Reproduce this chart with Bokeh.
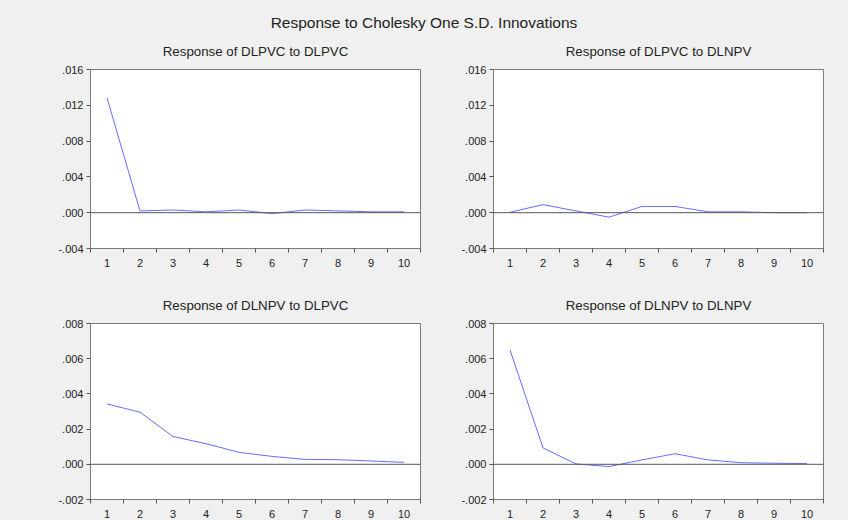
from bokeh.plotting import figure
from bokeh.layouts import column, row
from bokeh.models import Div, FixedTicker, CustomJSTickFormatter, Span, Range1d
from bokeh.embed import file_html
from bokeh.resources import INLINE

periods = [1, 2, 3, 4, 5, 6, 7, 8, 9, 10]
period_labels = ["1", "2", "3", "4", "5", "6", "7", "8", "9", "10"]

resp_dlpvc_dlpvc = [0.01283, 0.0002, 0.0003, 0.0001, 0.0003, -0.0001, 0.0003, 0.0002, 0.0001, 0.0001]
resp_dlpvc_dlnpv = [0.00005, 0.0009, 0.0002, -0.0005, 0.0007, 0.0007, 0.0001, 0.0001, 0.0, 0.0]
resp_dlnpv_dlpvc = [0.00343, 0.00296, 0.00158, 0.00117, 0.00068, 0.00045, 0.00028, 0.00026, 0.00019, 0.00011]
resp_dlnpv_dlnpv = [0.0065, 0.00093, 0.00002, -0.00013, 0.00025, 0.0006, 0.00025, 0.00009, 0.00006, 0.00004]

titles = ["Response of DLPVC to DLPVC", "Response of DLPVC to DLNPV",
          "Response of DLNPV to DLPVC", "Response of DLNPV to DLNPV"]
main_title = "Response to Cholesky One S.D. Innovations"
yticks_top = [-0.004, 0.0, 0.004, 0.008, 0.012, 0.016]
yticks_bottom = [-0.002, 0.0, 0.002, 0.004, 0.006, 0.008]

FONT = "Liberation Sans"
BG = "#f0f0f0"
LINE = "#6b6bff"

fmt_code = """
var s = tick.toFixed(3);
if (s == '-0.000') { s = '0.000'; }
return s.replace('0.', '.');
"""


def panel(title, values, yticks, width, height, bl, br, bt, bb):
    p = figure(width=width, height=height, output_backend="svg", toolbar_location=None,
               x_range=Range1d(0.5, 10.5), y_range=Range1d(yticks[0], yticks[-1]),
               min_border_left=bl, min_border_right=br, min_border_top=bt, min_border_bottom=bb,
               background_fill_color="white", border_fill_color=BG,
               outline_line_color="#7a7a7a", title=title,
               styles={"background-color": BG})
    p.title.text_font = FONT
    p.title.text_font_size = "13.3px"
    p.title.text_font_style = "normal"
    p.title.text_color = "#222222"
    p.title.align = "center"
    p.title.standoff = 21
    p.grid.visible = False

    xa = p.xaxis[0]
    xa.ticker = FixedTicker(ticks=periods, minor_ticks=[x - 0.5 for x in periods] + [10.5])
    xa.major_label_overrides = {i: lab for i, lab in zip(periods, period_labels)}
    xa.major_tick_out = 0
    xa.major_tick_in = 0
    xa.minor_tick_out = 4
    xa.minor_tick_in = 0
    xa.minor_tick_line_color = "#555555"
    xa.major_label_standoff = 6
    xa.axis_line_color = "#7a7a7a"

    ya = p.yaxis[0]
    ya.ticker = FixedTicker(ticks=yticks, minor_ticks=[])
    ya.formatter = CustomJSTickFormatter(code=fmt_code)
    ya.major_tick_out = 4
    ya.major_tick_in = 0
    ya.major_tick_line_color = "#555555"
    ya.major_label_standoff = 3
    ya.axis_line_color = "#7a7a7a"

    for ax in (xa, ya):
        ax.major_label_text_font = FONT
        ax.major_label_text_font_size = "11px"
        ax.major_label_text_color = "#222222"

    p.add_layout(Span(location=0, dimension="width", line_color="#555555", line_width=1))
    p.line(periods, values, line_color=LINE, line_width=1)
    return p


header = Div(text='<div style="padding-top:14px;line-height:17px;">%s</div>' % main_title,
             width=848, height=31, margin=0,
             styles={"text-align": "center", "font-size": "15.5px", "font-family": FONT,
                     "background-color": BG, "color": "#222222",
                     "width": "848px", "height": "31px", "overflow": "visible"})

f1 = panel(titles[0], resp_dlpvc_dlpvc, yticks_top, 424, 254, 90, 4, 38, 37)
f2 = panel(titles[1], resp_dlpvc_dlnpv, yticks_top, 424, 254, 69, 25, 38, 37)
f3 = panel(titles[2], resp_dlnpv_dlpvc, yticks_bottom, 424, 235, 90, 4, 38, 20)
f4 = panel(titles[3], resp_dlnpv_dlnpv, yticks_bottom, 424, 235, 69, 25, 38, 20)

p = column(header,
           row(f1, f2, spacing=0, styles={"background-color": BG}),
           row(f3, f4, spacing=0, styles={"background-color": BG}),
           spacing=0, styles={"background-color": BG})

open("out.html", "w").write(file_html(p, INLINE))
